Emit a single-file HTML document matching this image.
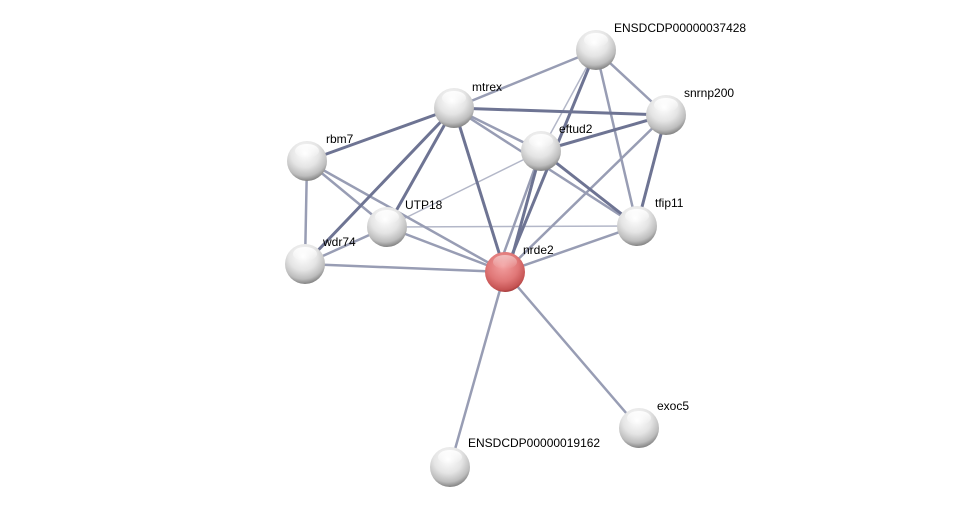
<!DOCTYPE html>
<html><head><meta charset="utf-8"><style>
html,body{margin:0;padding:0;background:#fff;}
svg{display:block;}
text{font-family:"Liberation Sans",Arial,sans-serif;font-size:12px;fill:#000;}
</style></head><body>
<svg width="975" height="510" viewBox="0 0 975 510" xmlns="http://www.w3.org/2000/svg">
<defs>
<radialGradient id="g" cx="45%" cy="30%" r="72%">
<stop offset="0" stop-color="#ffffff"/>
<stop offset="0.5" stop-color="#e4e4e4"/>
<stop offset="0.8" stop-color="#bdbdbd"/>
<stop offset="1" stop-color="#7a7a7a"/>
</radialGradient>
<radialGradient id="r" cx="45%" cy="35%" r="70%">
<stop offset="0" stop-color="#f3a0a0"/>
<stop offset="0.55" stop-color="#e07777"/>
<stop offset="0.85" stop-color="#c55353"/>
<stop offset="1" stop-color="#8d2a2a"/>
</radialGradient>
<linearGradient id="hl" x1="0" y1="0" x2="0" y2="1">
<stop offset="0" stop-color="#fff" stop-opacity="0.95"/>
<stop offset="1" stop-color="#fff" stop-opacity="0"/>
</linearGradient>
</defs>
<g stroke-linecap="round" fill="none">
<g stroke="#b3b7c8" stroke-width="1.5">
<line x1="387" y1="227" x2="541" y2="151"/>
<line x1="387" y1="227" x2="637" y2="226"/>
<line x1="596" y1="50" x2="541" y2="151"/>
</g>
<g stroke="#989db4" stroke-width="2.5">
<line x1="454" y1="108" x2="596" y2="50"/>
<line x1="596" y1="50" x2="666" y2="115"/>
<line x1="596" y1="50" x2="637" y2="226"/>
<line x1="666" y1="115" x2="505" y2="272"/>
<line x1="454" y1="108" x2="541" y2="151"/>
<line x1="454" y1="108" x2="637" y2="226"/>
<line x1="541" y1="151" x2="637" y2="226"/>
<line x1="307" y1="161" x2="305" y2="264"/>
<line x1="307" y1="161" x2="505" y2="272"/>
<line x1="307" y1="161" x2="387" y2="227"/>
<line x1="387" y1="227" x2="505" y2="272"/>
<line x1="387" y1="227" x2="305" y2="264"/>
<line x1="305" y1="264" x2="505" y2="272"/>
<line x1="637" y1="226" x2="505" y2="272"/>
<line x1="505" y1="272" x2="639" y2="428"/>
<line x1="505" y1="272" x2="450" y2="467"/>
<line x1="541" y1="151" x2="497" y2="272"/>
</g>
<g stroke="#6e7493" stroke-width="3">
<line x1="454" y1="108" x2="666" y2="115"/>
<line x1="454" y1="108" x2="307" y2="161"/>
<line x1="454" y1="108" x2="305" y2="264"/>
<line x1="454" y1="108" x2="387" y2="227"/>
<line x1="454" y1="108" x2="505" y2="272"/>
<line x1="596" y1="50" x2="505" y2="272"/>
<line x1="666" y1="115" x2="541" y2="151"/>
<line x1="666" y1="115" x2="637" y2="226"/>
<line x1="541" y1="151" x2="637" y2="226"/>
<line x1="541" y1="151" x2="508" y2="272"/>
</g>
</g>
<g>
<circle cx="596" cy="50" r="20" fill="url(#g)"/>
<circle cx="454" cy="108" r="20" fill="url(#g)"/>
<circle cx="666" cy="115" r="20" fill="url(#g)"/>
<circle cx="307" cy="161" r="20" fill="url(#g)"/>
<circle cx="541" cy="151" r="20" fill="url(#g)"/>
<circle cx="387" cy="227" r="20" fill="url(#g)"/>
<circle cx="637" cy="226" r="20" fill="url(#g)"/>
<circle cx="305" cy="264" r="20" fill="url(#g)"/>
<circle cx="639" cy="428" r="20" fill="url(#g)"/>
<circle cx="450" cy="467" r="20" fill="url(#g)"/>
<circle cx="505" cy="272" r="20" fill="url(#r)"/>
</g>
<g fill="url(#hl)">
<ellipse cx="596" cy="40" rx="12" ry="7"/>
<ellipse cx="454" cy="98" rx="12" ry="7"/>
<ellipse cx="666" cy="105" rx="12" ry="7"/>
<ellipse cx="307" cy="151" rx="12" ry="7"/>
<ellipse cx="541" cy="141" rx="12" ry="7"/>
<ellipse cx="387" cy="217" rx="12" ry="7"/>
<ellipse cx="637" cy="216" rx="12" ry="7"/>
<ellipse cx="305" cy="254" rx="12" ry="7"/>
<ellipse cx="639" cy="418" rx="12" ry="7"/>
<ellipse cx="450" cy="457" rx="12" ry="7"/>
<ellipse cx="505" cy="262" rx="12" ry="7" opacity="0.5"/>
</g>
<g>
<text x="614" y="32">ENSDCDP00000037428</text>
<text x="472" y="91">mtrex</text>
<text x="684" y="97">snrnp200</text>
<text x="326" y="143">rbm7</text>
<text x="559" y="133">eftud2</text>
<text x="405" y="209">UTP18</text>
<text x="655" y="207">tfip11</text>
<text x="323" y="246">wdr74</text>
<text x="523" y="254">nrde2</text>
<text x="657" y="410">exoc5</text>
<text x="468" y="447">ENSDCDP00000019162</text>
</g>
</svg>
</body></html>
